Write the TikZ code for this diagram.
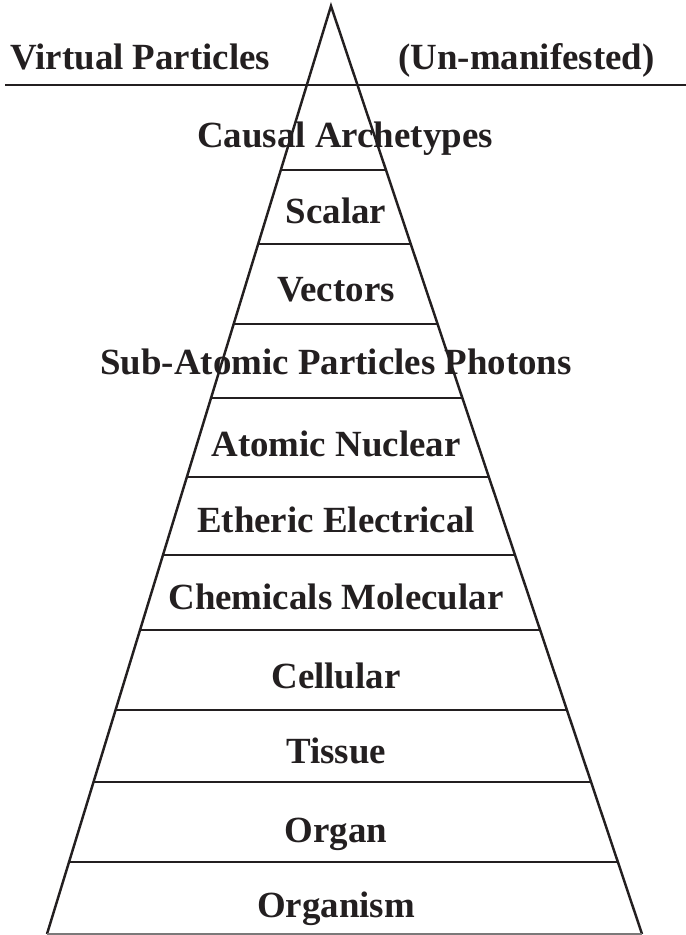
\documentclass[tikz,border=0pt]{standalone}
\usepackage{fontspec}
\setmainfont{Liberation Serif}
\usetikzlibrary{calc}
\definecolor{cInk}{HTML}{231F20}
\tikzset{
  edge/.style={draw=cInk,line width=1.4pt,line join=miter},
  rung/.style={draw=cInk,line width=1.5pt},
  lvl/.style={font=\fontsize{21}{25}\selectfont\bfseries,text=cInk,inner sep=0pt,anchor=base},
  head/.style={lvl,anchor=base west}
}
\begin{document}
\begin{tikzpicture}
  \useasboundingbox (0,0) rectangle (13.72,18.70);
  % Pyramid outline.
  \coordinate (apex) at (6.62,18.58);
  \coordinate (bl) at (0.94,0.02);
  \coordinate (br) at (12.84,0.02);
  \draw[edge] (bl) -- (apex) -- (br);
  \draw[rung,draw=cInk!60] (bl) -- (br);

  % Divider between un-manifested and manifested.
  \coordinate (divL) at (0.1,17.0);
  \coordinate (divR) at (13.72,17.0);
  \draw[rung] (divL) -- (divR);

  % Level separators.
  \foreach \t in {0.1767,0.2565,0.3427,0.4224,0.5075,0.5916,0.6724,0.7586,0.8362,0.9224}
    \draw[rung] ($(apex)!\t!(bl)$) -- ($(apex)!\t!(br)$);

  \node[head] (virt) at (0.2,17.30) {Virtual Particles};
  \node[head] (unman) at (7.96,17.30) {(Un-manifested)};

  \node[lvl] (causal) at (6.90,15.74) {Causal Archetypes};
  \node[lvl] (scalar) at (6.72,14.22) {Scalar};
  \node[lvl] (vect) at (6.72,12.66) {Vectors};
  \node[lvl] (subat) at (6.72,11.20) {Sub-Atomic Particles Photons};
  \node[lvl] (atomic) at (6.72,9.56) {Atomic Nuclear};
  \node[lvl] (ether) at (6.72,8.04) {Etheric Electrical};
  \node[lvl] (chem) at (6.72,6.50) {Chemicals Molecular};
  \node[lvl] (cell) at (6.72,4.92) {Cellular};
  \node[lvl] (tissue) at (6.72,3.42) {Tissue};
  \node[lvl] (organ) at (6.72,1.84) {Organ};
  \node[lvl] (orgsm) at (6.72,0.34) {Organism};
\end{tikzpicture}
\end{document}
